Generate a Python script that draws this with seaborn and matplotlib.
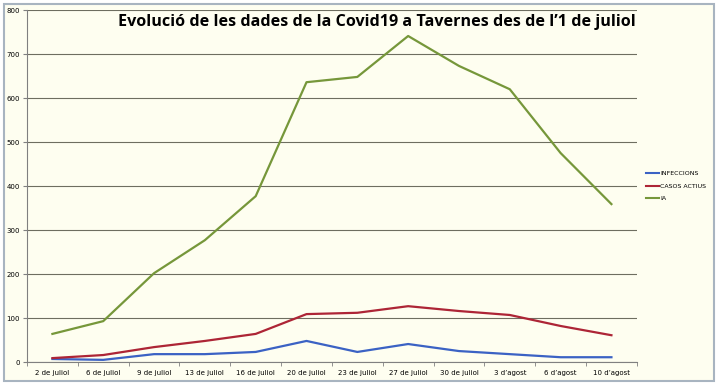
import pandas as pd
import seaborn as sns
import matplotlib.pyplot as plt
from matplotlib.patches import Rectangle

dates = ["2 de juliol", "6 de juliol", "9 de juliol", "13 de juliol", "16 de juliol",
         "20 de juliol", "23 de juliol", "27 de juliol", "30 de juliol",
         "3 d’agost", "6 d’agost", "10 d’agost"]
infeccions = [7, 5, 18, 18, 23, 48, 23, 41, 25, 18, 11, 11]
casos_actius = [9, 16, 34, 48, 64, 109, 112, 127, 116, 107, 82, 61]
ia = [64, 93, 202, 277, 377, 636, 648, 741, 673, 620, 475, 359]
series_names = ["INFECCIONS", "CASOS ACTIUS", "IA"]
colors = ["#3b62c4", "#ad2536", "#76973a"]

df = pd.DataFrame({"Data": dates, "INFECCIONS": infeccions,
                   "CASOS ACTIUS": casos_actius, "IA": ia})
df["x"] = range(len(dates))
long = df.melt(id_vars=["Data", "x"], value_vars=series_names,
               var_name="serie", value_name="valor")

bg = "#fefef0"
fig = plt.figure(figsize=(7.2, 3.86), dpi=100, facecolor="white")
fig.patches.append(Rectangle((0.006, 0.012), 0.985, 0.978, transform=fig.transFigure,
                             facecolor=bg, edgecolor="#a8b4c0", linewidth=1.5, zorder=-10))
ax = fig.add_axes([0.0375, 0.062, 0.847, 0.912])
ax.set_facecolor(bg)

sns.lineplot(data=long, x="x", y="valor", hue="serie", hue_order=series_names,
             palette=colors, linewidth=1.6, ax=ax, sort=False)

ax.set_xlim(-0.5, len(dates) - 0.5)
ax.set_ylim(0, 800)
ax.set_yticks(range(0, 801, 100))
ax.set_yticklabels([str(v) for v in range(0, 801, 100)], fontsize=5, family="DejaVu Sans")
ax.set_xticks(range(len(dates)))
ax.set_xticklabels(dates, fontsize=5, family="DejaVu Sans")
ax.set_xticks([i - 0.5 for i in range(len(dates) + 1)], minor=True)
ax.tick_params(axis="x", which="major", length=0, pad=6)
ax.tick_params(axis="x", which="minor", length=3, color="#808080")
ax.tick_params(axis="y", length=3, color="#808080", pad=2)
ax.grid(axis="y", color="#6e6e60", linewidth=0.8)
ax.set_axisbelow(True)
for s in ["top", "right"]:
    ax.spines[s].set_visible(False)
for s in ["left", "bottom"]:
    ax.spines[s].set_color("#808080")
    ax.spines[s].set_linewidth(0.8)
ax.set_xlabel("")
ax.set_ylabel("")

leg = ax.legend(loc="center left", bbox_to_anchor=(1.005, 0.5), frameon=False,
                fontsize=4.5, handlelength=2.2, handletextpad=0.1, labelspacing=1.1)
for line in leg.get_lines():
    line.set_linewidth(1.5)

fig.text(0.883, 0.943, "Evolució de les dades de la Covid19 a Tavernes des de l’1 de juliol",
         ha="right", va="center", fontsize=11.6, fontweight="bold", family="Open Sans")

fig.savefig("out.png", dpi=100, facecolor="white")
